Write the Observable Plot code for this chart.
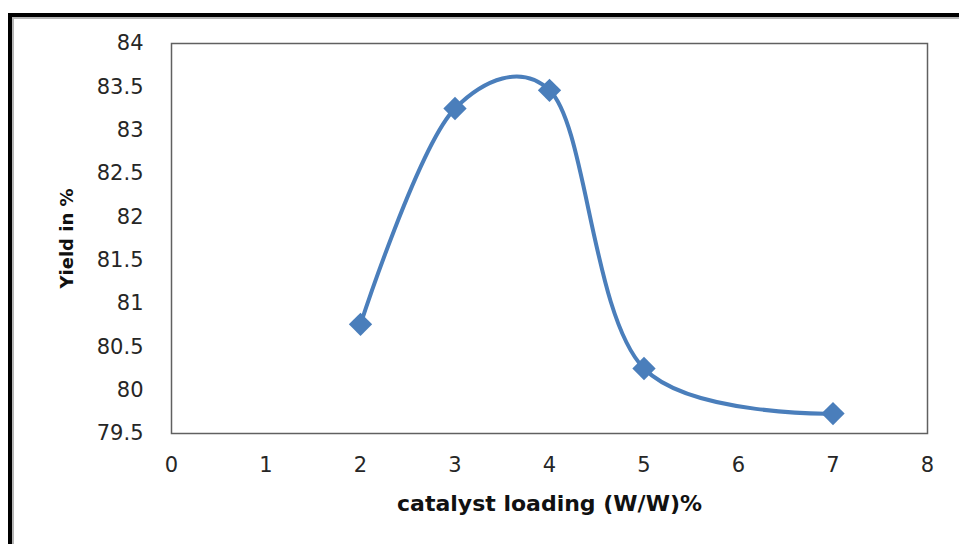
<!DOCTYPE html>
<html>
<head>
<meta charset="utf-8">
<script src="https://cdn.jsdelivr.net/npm/d3@7"></script>
<script src="https://cdn.jsdelivr.net/npm/@observablehq/plot@0.6"></script>
<style>
  html, body { margin: 0; padding: 0; background: #fff; }
  #wrap { position: relative; width: 959px; height: 544px; overflow: hidden; }
  #wrap svg { position: absolute; left: 0; top: 0; }
  /* heavy outer border on the top and left edges, with a soft grey inner line */
  #border {
    position: absolute; left: 8px; top: 13px; right: -20px; bottom: -20px;
    border-left: 4px solid #000; border-top: 4px solid #000;
  }
  #border::after {
    content: ""; position: absolute; left: 0; top: 0; right: 0; bottom: 0;
    border-left: 2px solid #b5b5b5; border-top: 2px solid #b5b5b5;
  }
</style>
</head>
<body>
<div id="wrap"><div id="border"></div></div>
<script>
// Catalyst loading (W/W)% and the resulting yield (%)
const loading = [2, 3, 4, 5, 7];
const yieldPct = [80.76, 83.25, 83.46, 80.25, 79.73];

// Axis ticks
const xTicks = [0, 1, 2, 3, 4, 5, 6, 7, 8];
const yTicks = [79.5, 80, 80.5, 81, 81.5, 82, 82.5, 83, 83.5, 84];

const xTitle = "catalyst loading (W/W)%";
const yTitle = "Yield in %";

const points = loading.map((x, i) => ({x, y: yieldPct[i]}));
const blue = "#4a7ebb";

const chart = Plot.plot({
  width: 959,
  height: 544,
  marginLeft: 171,
  marginTop: 43,
  marginRight: 32,
  marginBottom: 111,
  style: {
    fontFamily: "DejaVu Sans",
    fontSize: "21px",
    color: "#262626",
    background: "transparent",
    overflow: "visible"
  },
  x: {domain: [0, 8]},
  y: {domain: [79.5, 84]},
  marks: [
    Plot.frame({stroke: "#606060", strokeWidth: 1.5}),
    Plot.axisY(yTicks, {tickSize: 0, tickPadding: 28, label: null, fontSize: 21, tickFormat: d => String(d)}),
    Plot.axisX(xTicks, {tickSize: 0, tickPadding: 24, label: null, fontSize: 21, tickFormat: d => String(d)}),
    Plot.text([xTitle], {
      text: d => d, frameAnchor: "bottom", dy: 70, textAnchor: "middle", lineAnchor: "middle",
      fontWeight: "bold", fontSize: 22, fill: "#111"
    }),
    Plot.text([yTitle], {
      text: d => d, frameAnchor: "left", dx: -104, rotate: -90,
      textAnchor: "middle", lineAnchor: "middle",
      fontWeight: "bold", fontSize: 18, fill: "#111"
    }),
    // smoothed line through the measured points
    Plot.line(points, {
      x: "x", y: "y", stroke: blue, strokeWidth: 4,
      curve: d3.curveCatmullRom.alpha(0.25)
    }),
    Plot.dot(points, {
      x: "x", y: "y", symbol: "diamond2", r: 10.5, fill: blue, stroke: "none"
    })
  ]
});

document.getElementById("wrap").prepend(chart);
</script>
</body>
</html>
